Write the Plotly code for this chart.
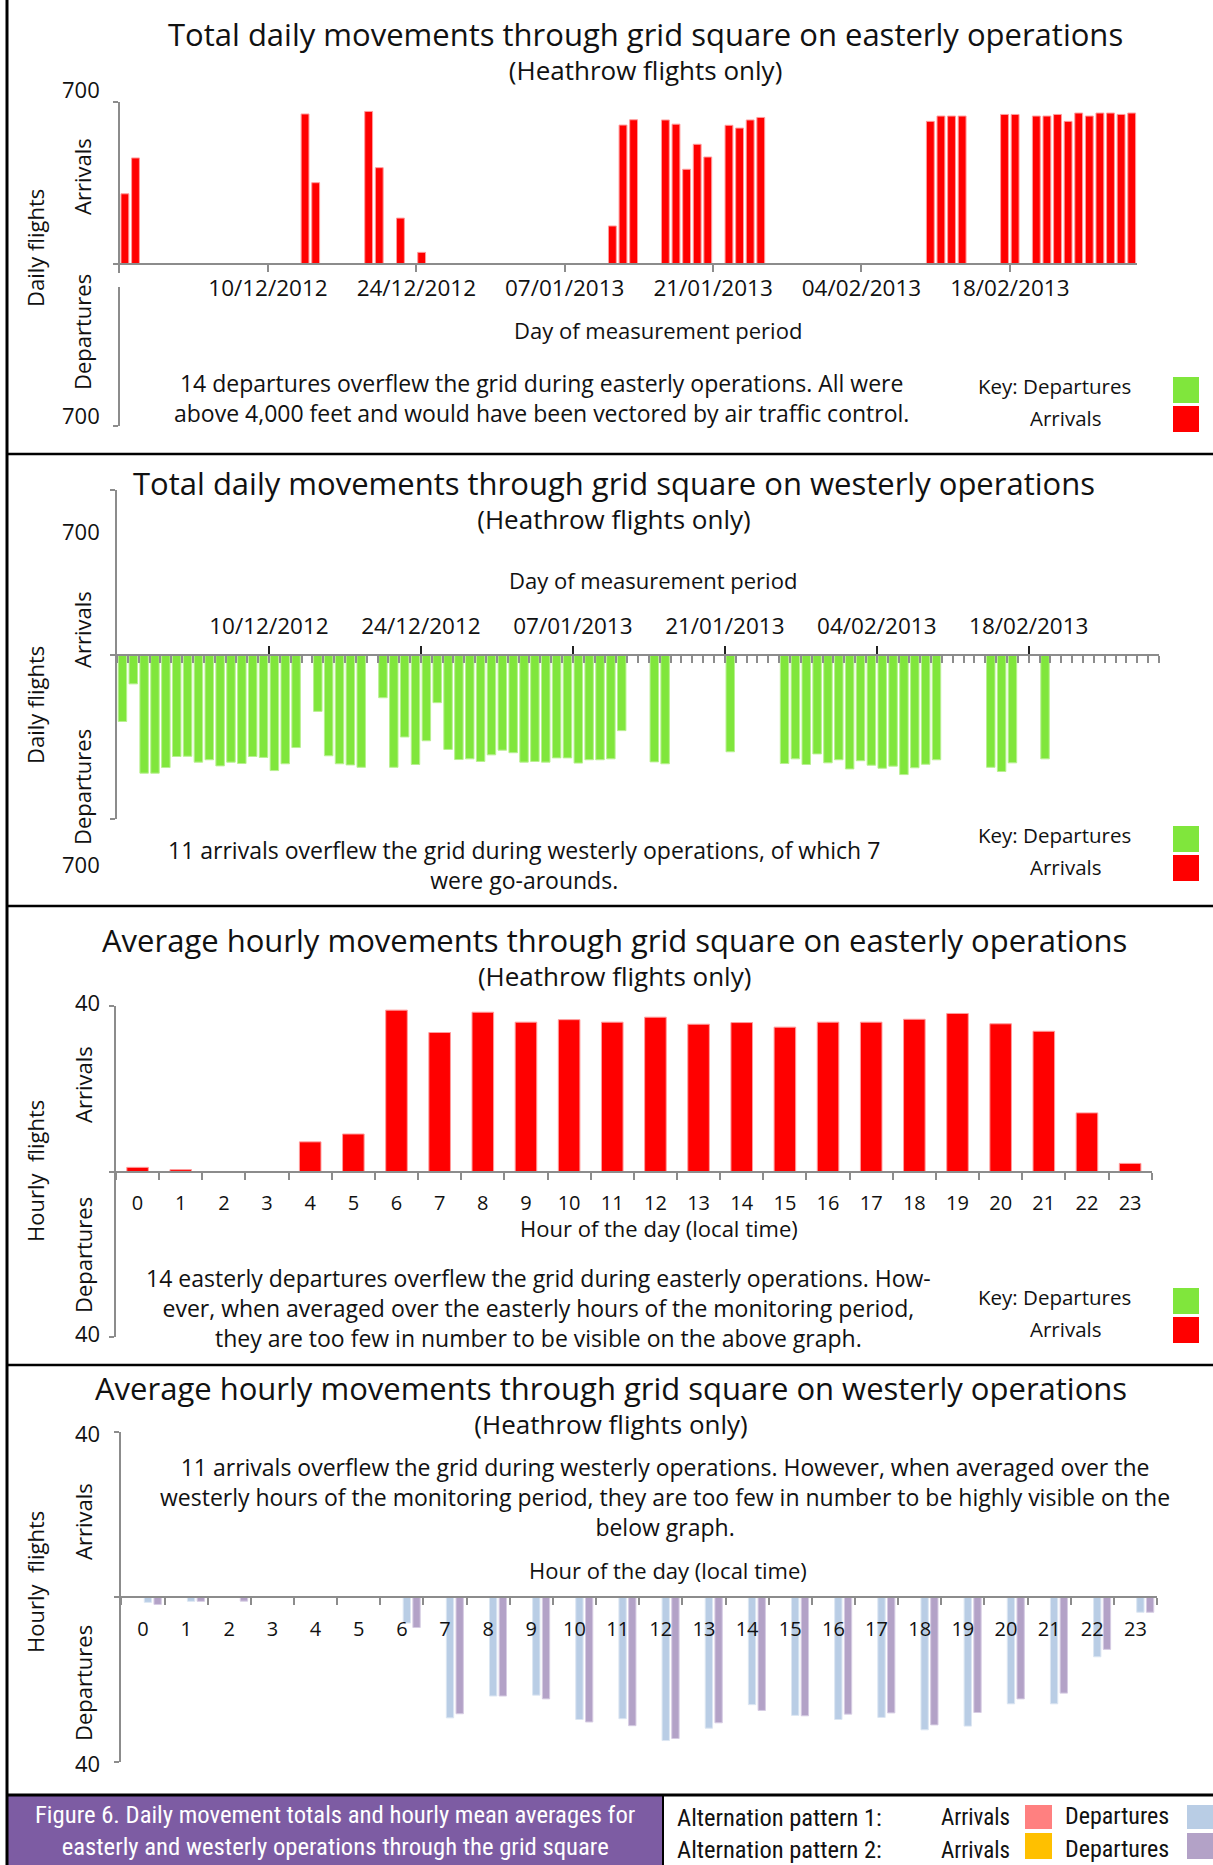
import plotly.graph_objects as go
import pandas as pd

W, H = 1213, 1865

# ---------------- data ----------------
START = "2012-11-26"
END = "2013-03-02"
N_DAYS = 96
DAYS = pd.date_range(START, periods=N_DAYS, freq="D")
DATE_TICKS = ["2012-12-10", "2012-12-24", "2013-01-07", "2013-01-21", "2013-02-04", "2013-02-18"]
DATE_TICK_TEXT = ["10/12/2012", "24/12/2012", "07/01/2013", "21/01/2013", "04/02/2013", "18/02/2013"]

# easterly operations: daily arrivals (red) and departures (green)
EAST_ARR = [302, 457, 0, 0, 0, 0, 0, 0, 0, 0, 0, 0, 0, 0, 0, 0, 0, 647, 350, 0,
            0, 0, 0, 658, 415, 0, 197, 0, 49, 0, 0, 0, 0, 0, 0, 0, 0, 0, 0, 0,
            0, 0, 0, 0, 0, 0, 163, 599, 622, 0, 0, 621, 603, 408, 516, 461, 0, 598, 586, 621,
            632, 0, 0, 0, 0, 0, 0, 0, 0, 0, 0, 0, 0, 0, 0, 0, 615, 638, 638, 638,
            0, 0, 0, 645, 645, 0, 638, 638, 645, 615, 651, 638, 651, 651, 645, 651]
EAST_DEP = [0, 0, 0, 0, 0, 0, 0, 0, 0, 0, 0, 0, 0, 0, 0, 0, 0, 0, 0, 0,
            0, 0, 0, 2, 2, 0, 0, 0, 0, 0, 0, 0, 0, 0, 0, 0, 0, 0, 0, 0,
            0, 0, 0, 0, 0, 0, 0, 0, 0, 0, 0, 0, 1, 0, 0, 0, 1, 2, 0, 1,
            2, 0, 0, 0, 0, 0, 0, 0, 0, 0, 0, 0, 0, 0, 0, 0, 1, 0, 0, 0,
            0, 0, 0, 0, 1, 0, 0, 0, 1, 0, 0, 0, 0, 0, 0, 0]

# westerly operations: daily departures (green)
WEST_DEP = [285, 125, 505, 505, 481, 434, 433, 458, 448, 474, 458, 464, 434, 438, 494, 465, 396, 0, 242, 431,
            465, 470, 480, 0, 184, 480, 351, 468, 367, 205, 404, 447, 444, 455, 427, 407, 418, 458, 455, 458,
            440, 440, 462, 448, 448, 444, 324, 0, 0, 457, 465, 0, 0, 0, 0, 0, 414, 0, 0, 0,
            0, 464, 444, 468, 423, 461, 448, 487, 452, 471, 484, 475, 511, 482, 467, 448, 0, 0, 0, 0,
            480, 498, 461, 0, 0, 444, 0, 0, 0, 0, 0, 0, 0, 0, 0, 0]

HOURS = [str(h) for h in range(24)]
# easterly hourly averages
EAST_HR_ARR = [1.05, 0.5, 0, 0, 7.2, 9.1, 39.0, 33.6, 38.5, 36.1, 36.7, 36.1,
               37.3, 35.6, 36.0, 34.9, 36.1, 36.1, 36.8, 38.2, 35.7, 33.9, 14.2, 2.0]
EAST_HR_DEP = [0, 0.15, 0, 0, 0, 0, 0, 0, 0, 0, 0, 0,
               0, 0, 0, 0, 0, 0, 0, 0, 0, 0, 0, 0]
# westerly hourly averages (departures, alternation patterns 1 and 2)
WEST_HR_DEP1 = [1.3, 1.05, 0, 0, 0, 0, 6.3, 29.3, 24.0, 23.8, 29.7, 29.5,
                34.8, 31.8, 26.1, 28.7, 29.7, 29.2, 32.2, 31.3, 25.9, 25.9, 14.5, 3.7]
WEST_HR_DEP2 = [1.8, 1.05, 1.0, 0, 0, 0, 7.4, 28.3, 24.0, 24.7, 30.3, 31.2,
                34.3, 30.5, 27.5, 28.8, 28.4, 28.1, 31.0, 28.0, 24.7, 23.3, 12.7, 3.7]

# ---------------- style ----------------
FONT = "Open Sans"
NARROW = "Liberation Sans Narrow, Roboto Condensed, Roboto"
RED = "#FF0000"
GREEN = "#80E63C"
BLUE = "#B9CDE5"
PURPLE = "#B3A2C7"
PINK = "#FF8080"
YELLOW = "#FFC000"
FOOT_PURPLE = "#7D5CA3"
AXC = "#8C8C8C"
DAY_MS = 86400000


def px(x):
    return x / W


def py(y):
    return 1 - y / H


fig = go.Figure()

# panel 1 – easterly daily
fig.add_bar(x=DAYS, y=EAST_ARR, xaxis="x", yaxis="y", marker=dict(color=RED, line=dict(color="#FF9C9C", width=1)),
            width=0.74 * DAY_MS, offset=0.13 * DAY_MS)
fig.add_bar(x=DAYS, y=[-v for v in EAST_DEP], xaxis="x", yaxis="y", marker=dict(color=GREEN, line=dict(width=0)),
            width=0.74 * DAY_MS, offset=0.13 * DAY_MS)
# panel 2 – westerly daily
fig.add_bar(x=DAYS, y=[-v for v in WEST_DEP], xaxis="x2", yaxis="y2",
            marker=dict(color=GREEN, line=dict(color="#B8F090", width=1)),
            width=0.78 * DAY_MS, offset=0.11 * DAY_MS)
# panel 3 – easterly hourly
fig.add_bar(x=HOURS, y=EAST_HR_ARR, xaxis="x3", yaxis="y3", marker=dict(color=RED, line=dict(color="#FF9C9C", width=1)),
            width=0.5, offset=-0.25)
fig.add_bar(x=HOURS, y=[-v for v in EAST_HR_DEP], xaxis="x3", yaxis="y3", marker=dict(color=GREEN, line=dict(width=0)),
            width=0.5, offset=-0.25)
# panel 4 – westerly hourly
fig.add_bar(x=HOURS, y=[-v for v in WEST_HR_DEP1], xaxis="x4", yaxis="y4", marker=dict(color=BLUE, line=dict(color="#DCE6F2", width=1)),
            width=0.17, offset=0.03)
fig.add_bar(x=HOURS, y=[-v for v in WEST_HR_DEP2], xaxis="x4", yaxis="y4", marker=dict(color=PURPLE, line=dict(color="#D6CCE3", width=1)),
            width=0.17, offset=0.255)

common_x = dict(showgrid=False, zeroline=False, showline=True, linecolor=AXC, linewidth=2,
                anchor="free", tickfont=dict(family=FONT, size=22.5, color="#111"))
common_y = dict(showgrid=False, zeroline=False, showline=True, linecolor=AXC, linewidth=2,
                ticks="outside", ticklen=5, tickcolor=AXC, tickwidth=2, showticklabels=False)

layout_axes = dict(
    xaxis=dict(common_x, domain=[px(119.6), px(1137)], type="date", range=[START, END],
               position=py(263.7), ticks="outside", ticklen=7, tickcolor=AXC, tickwidth=2,
               tickmode="array", tickvals=DATE_TICKS, ticktext=DATE_TICK_TEXT, ticklabelstandoff=-3),
    yaxis=dict(common_y, domain=[py(425.7), py(101.7)], range=[-700, 700], anchor="x",
               tickvals=[-700, 0, 700]),
    xaxis2=dict(common_x, domain=[px(117), px(1159)], type="date", range=[START, END],
                position=py(654.5), side="top", ticks="outside", ticklen=8, tickcolor="#222", tickwidth=2,
                tickmode="array", tickvals=DATE_TICKS, ticktext=DATE_TICK_TEXT, ticklabelstandoff=3,
                minor=dict(ticks="inside", ticklen=7, tickcolor=AXC, tickwidth=2, dtick=DAY_MS, tick0=START)),
    yaxis2=dict(common_y, domain=[py(819), py(490)], range=[-700, 700], anchor="x2",
                tickvals=[-700, 0, 700]),
    xaxis3=dict(common_x, domain=[px(116), px(1151.7)], type="category", range=[-0.5, 23.5],
                position=py(1171.7), ticks="outside", ticklen=7, tickcolor=AXC, tickwidth=2,
                tickson="boundaries", ticklabelstandoff=13, tickfont=dict(family=FONT, size=20, color="#111")),
    yaxis3=dict(common_y, domain=[py(1337.4), py(1006)], range=[-40, 40], anchor="x3",
                tickvals=[-40, 0, 40]),
    xaxis4=dict(common_x, domain=[px(121.4), px(1157)], type="category", range=[-0.5, 23.5],
                position=py(1597), ticks="outside", ticklen=7, tickcolor=AXC, tickwidth=2,
                tickson="boundaries", ticklabelstandoff=14, tickfont=dict(family=FONT, size=20, color="#111")),
    yaxis4=dict(common_y, domain=[py(1762), py(1432)], range=[-40, 40], anchor="x4",
                tickvals=[-40, 0, 40]),
)

annotations = []


def ann(text, x, y, size=22, color="#111", angle=0, xanchor="center", family=FONT):
    annotations.append(dict(text=text, x=px(x), y=py(y), xref="paper", yref="paper", showarrow=False,
                            xanchor=xanchor, yanchor="middle", textangle=angle,
                            font=dict(family=family, size=size, color=color)))


TITLE = 31
SUB = 26
NOTE = 23
AX = 22


def title(main, x, y_main, y_sub):
    # main title + subtitle as one block; line spacing driven by subtitle size
    ann("<span style='font-size:%dpx'>%s</span><br>(Heathrow flights only)" % (TITLE, main),
        x, (y_main + y_sub) / 2 - 3, SUB)


def note(lines, x, y_first, y_last):
    ann("<br>".join(lines), x, (y_first + y_last) / 2, NOTE)


# panel 1 texts
title("Total daily movements through grid square on easterly operations", 645, 37, 71)
ann("Day of measurement period", 658, 330, AX)
note(["14 departures overflew the grid during easterly operations. All were",
      "above 4,000 feet and would have been vectored by air traffic control."], 541, 384, 411)
ann("700", 81, 89, AX)
ann("700", 81, 415, AX)
ann("Arrivals", 82, 177, AX, angle=-90)
ann("Departures", 82, 332, AX, angle=-90)
ann("Daily flights", 35, 248, AX, angle=-90)

# panel 2 texts
title("Total daily movements through grid square on westerly operations", 614, 485, 520)
ann("Day of measurement period", 653, 580, AX)
note(["11 arrivals overflew the grid during westerly operations, of which 7",
      "were go-arounds."], 524, 851, 879)
ann("700", 81, 531, AX)
ann("700", 81, 864, AX)
ann("Arrivals", 82, 630, AX, angle=-90)
ann("Departures", 82, 787, AX, angle=-90)
ann("Daily flights", 35, 705, AX, angle=-90)

# panel 3 texts
title("Average hourly movements through grid square on easterly operations", 614, 943, 976)
ann("Hour of the day (local time)", 659, 1228, AX)
note(["14 easterly departures overflew the grid during easterly operations. How-",
      "ever, when averaged over the easterly hours of the monitoring period,",
      "they are too few in number to be visible on the above graph."], 538, 1281, 1335)
ann("40", 87, 1002, AX)
ann("40", 87, 1333, AX)
ann("Arrivals", 83, 1085, AX, angle=-90)
ann("Departures", 83, 1255, AX, angle=-90)
ann("Hourly  flights", 35, 1171, AX, angle=-90)

# panel 4 texts
title("Average hourly movements through grid square on westerly operations", 611, 1391, 1424)
note(["11 arrivals overflew the grid during westerly operations. However, when averaged over the",
      "westerly hours of the monitoring period, they are too few in number to be highly visible on the",
      "below graph."], 665, 1470, 1524)
ann("Hour of the day (local time)", 668, 1570, AX)
ann("40", 87, 1433, AX)
ann("40", 87, 1763, AX)
ann("Arrivals", 83, 1522, AX, angle=-90)
ann("Departures", 83, 1683, AX, angle=-90)
ann("Hourly  flights", 35, 1582, AX, angle=-90)

shapes = []


def rect(x0, y0, x1, y1, fill, line_color=None, lw=0):
    shapes.append(dict(type="rect", xref="paper", yref="paper", x0=px(x0), x1=px(x1), y0=py(y1), y1=py(y0),
                       fillcolor=fill, line=dict(color=line_color or fill, width=lw), layer="above"))


def line(x0, y0, x1, y1, color="#000", lw=3):
    shapes.append(dict(type="line", xref="paper", yref="paper", x0=px(x0), x1=px(x1), y0=py(y0), y1=py(y1),
                       line=dict(color=color, width=lw), layer="above"))


# keys
for (ky, gy0, ry0) in [(386, 377, 406), (835, 826, 855), (1297, 1288, 1317)]:
    ann("Key: Departures", 1133, ky, 20.5, xanchor="right")
    ann("Arrivals", 1103, ky + 32, 20.5, xanchor="right")
    rect(1173, gy0, 1199, gy0 + 26, GREEN)
    rect(1173, ry0, 1199, ry0 + 26, RED)

# small white gap on panel 1 axis
rect(114, 273, 124, 287, "#FFFFFF")

# footer
FOOT = 24.7
rect(7, 1795, 663, 1865, FOOT_PURPLE)
annotations.append(dict(text="Figure 6. Daily movement totals and hourly mean averages for<br>"
                             "easterly and westerly operations through the grid square",
                        x=px(335), y=py(1830), xref="paper", yref="paper", showarrow=False,
                        xanchor="center", yanchor="middle",
                        font=dict(family=NARROW, size=FOOT, color="#FFFFFF")))
annotations.append(dict(text="Alternation pattern 1:<br>Alternation pattern 2:",
                        x=px(675), y=py(1833), xref="paper", yref="paper", showarrow=False,
                        xanchor="left", yanchor="middle", align="left",
                        font=dict(family=NARROW, size=24.5, color="#111")))
ann("Arrivals", 1012, 1817, 23, xanchor="right", family=NARROW)
ann("Arrivals", 1012, 1850, 23, xanchor="right", family=NARROW)
ann("Departures", 1063, 1816, 24, xanchor="left", family=NARROW)
ann("Departures", 1063, 1849, 24, xanchor="left", family=NARROW)
rect(1025, 1805, 1052, 1829, PINK)
rect(1025, 1833, 1052, 1859, YELLOW)
rect(1187, 1805, 1213, 1829, BLUE)
rect(1187, 1833, 1213, 1859, PURPLE)

# borders
line(7, 0, 7, 1865, lw=3)
for yy in [454, 906, 1365]:
    line(7, yy, 1213, yy, lw=2.5)
line(7, 1795, 1213, 1795, lw=3)
line(663, 1795, 663, 1865, lw=2)

fig.update_layout(
    width=W, height=H, margin=dict(l=0, r=0, t=0, b=0),
    paper_bgcolor="white", plot_bgcolor="rgba(0,0,0,0)",
    barmode="overlay", showlegend=False,
    font=dict(family=FONT, color="#111"),
    annotations=annotations, shapes=shapes,
    **layout_axes,
)

fig.write_html("out.html", config={"displayModeBar": False},
               post_script="document.body.style.margin='0px';document.body.style.overflow='hidden';")
